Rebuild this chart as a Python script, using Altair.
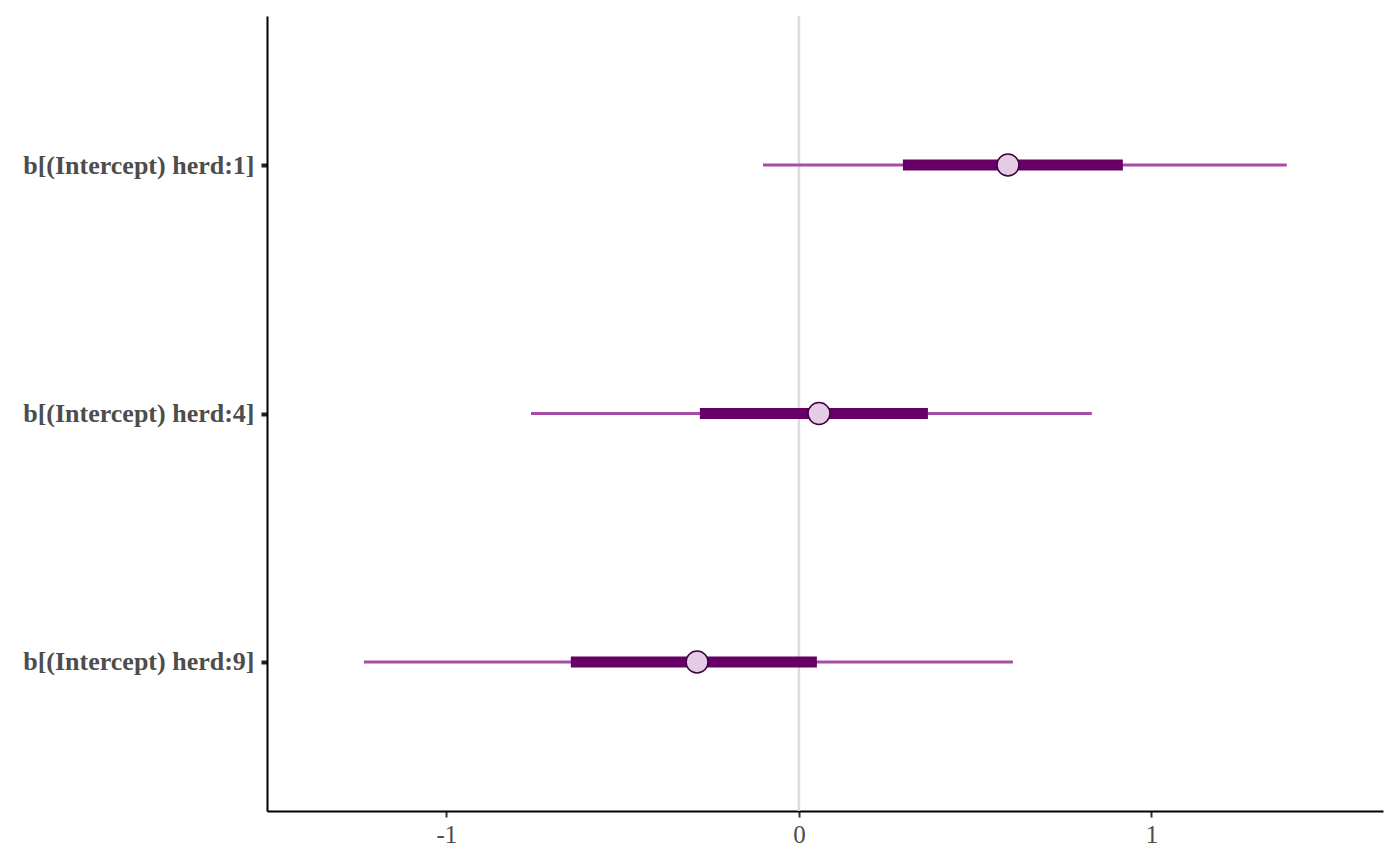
import altair as alt
import pandas as pd

params = ["b[(Intercept) herd:1]", "b[(Intercept) herd:4]", "b[(Intercept) herd:9]"]
ll = [-0.102, -0.760, -1.234]
l = [0.295, -0.281, -0.647]
m = [0.593, 0.057, -0.289]
h = [0.919, 0.366, 0.051]
hh = [1.384, 0.831, 0.607]

df = pd.DataFrame({"parameter": params, "ll": ll, "l": l, "m": m, "h": h, "hh": hh})

FONT = "Liberation Serif"
xscale = alt.Scale(domain=[-1.509, 1.657], nice=False, zero=False)
yscale = alt.Scale(type="point", domain=params, padding=0.6)

base = alt.Chart(df)

zero = alt.Chart(pd.DataFrame({"z": [0]})).mark_rule(color="#DCDCDC", strokeWidth=2.5).encode(
    x=alt.X("z:Q", scale=xscale)
)

outer = base.mark_rule(color="#a64ca6", strokeWidth=3).encode(
    x=alt.X("ll:Q", scale=xscale,
            axis=alt.Axis(title=None, values=[-1, 0, 1], labelExpr="'' + datum.value", grid=False)),
    x2="hh:Q",
    y=alt.Y("parameter:N", scale=yscale, axis=alt.Axis(title=None)),
)

inner = base.mark_rule(color="#660066", strokeWidth=11).encode(
    x=alt.X("l:Q", scale=xscale),
    x2="h:Q",
    y=alt.Y("parameter:N", scale=yscale),
)

point = base.mark_point(filled=True, fill="#e5cce5", stroke="#400040", strokeWidth=1.5,
                        size=480, opacity=1).encode(
    x=alt.X("m:Q", scale=xscale),
    y=alt.Y("parameter:N", scale=yscale),
)

chart = alt.layer(zero, outer, inner, point).properties(
    width=1116, height=795,
    autosize=alt.AutoSizeParams(type="none"),
    padding={"left": 259, "top": 8, "right": 9, "bottom": 47},
).configure_view(stroke=None).configure_axis(
    domainColor="#000000", domainWidth=2,
    tickColor="#333333", tickWidth=2, tickSize=6,
    labelFont=FONT, labelColor="#4D4D4D", labelFontSize=26,
    labelLimit=0,
    grid=False,
).configure_axisY(
    labelFontWeight="bold", tickColor="#222222", tickWidth=4, tickSize=6, labelPadding=7,
).configure_axisX(
    labelPadding=5, labelFontSize=25,
)

chart.save("out.html", embed_options={"renderer": "svg", "actions": False})
